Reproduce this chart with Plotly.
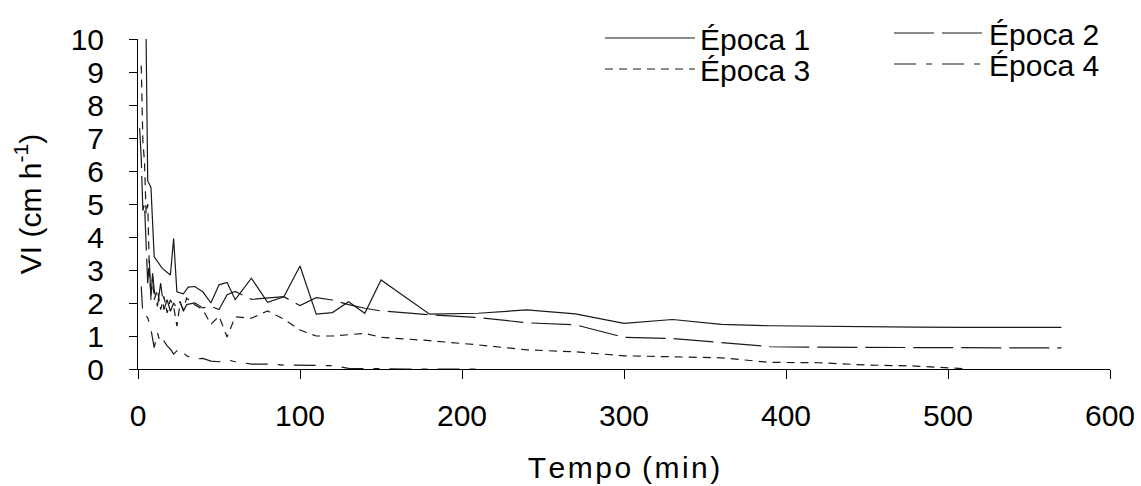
import plotly.graph_objects as go

# Época 1 (solid)
t1 = [5, 6, 8, 10, 15, 20, 22, 24, 28, 31, 35, 40, 45, 50, 55, 60,
      70, 80, 90, 100, 110, 120, 130, 140, 150,
      180, 210, 240, 270, 300, 330, 360, 390, 420, 450, 480, 510, 540, 570]
v1 = [10.0, 5.7, 5.5, 3.4, 3.05, 2.85, 3.95, 2.34, 2.28, 2.48, 2.5, 2.34, 2.0, 2.55, 2.62, 2.1,
      2.75, 2.02, 2.19, 3.12, 1.66, 1.71, 2.04, 1.69, 2.70,
      1.66, 1.69, 1.79, 1.67, 1.38, 1.50, 1.35, 1.31, 1.29, 1.28, 1.27, 1.26, 1.26, 1.26]

# Época 2 (long dash)
t2 = [1, 2, 3, 4, 5, 6, 7, 8, 9, 10, 12, 14, 16, 18, 20, 22, 24, 26, 28, 30,
      35, 40, 45, 50, 55, 60, 70, 80, 90, 100, 110, 120, 130, 140, 150,
      180, 210, 240, 270, 300, 330, 360, 390, 420, 450, 480, 510, 540, 570]
v2 = [7.3, 6.4, 4.8, 5.0, 3.8, 2.6, 3.3, 2.1, 2.9, 2.4, 1.9, 2.6, 1.8, 2.1, 1.75, 2.0, 1.85, 2.05, 1.75, 1.95,
      2.0, 1.85, 1.9, 1.8, 2.25, 2.35, 2.11, 2.15, 2.19, 1.92, 2.16, 2.09, 1.95, 1.84, 1.76,
      1.64, 1.56, 1.40, 1.34, 0.96, 0.92, 0.80, 0.68, 0.66, 0.65, 0.65, 0.64, 0.64, 0.64]

# Época 3 (short dash)
t3 = [2, 3, 4, 5, 6, 7, 8, 9, 10, 12, 14, 16, 18, 20, 22, 24, 26, 28, 30,
      35, 40, 45, 50, 55, 60, 70, 80, 90, 100, 110, 120, 130, 140, 150,
      180, 210, 240, 270, 300, 330, 360, 390, 420, 450, 480, 510]
v3 = [9.2, 6.9, 6.3, 4.7, 5.0, 3.0, 2.2, 2.8, 2.1, 2.4, 1.8, 2.2, 1.7, 2.1, 1.9, 1.3, 2.0, 1.8, 2.15,
      1.95, 1.8, 1.35, 1.6, 0.97, 1.58, 1.54, 1.76, 1.51, 1.18, 1.0, 1.0, 1.03, 1.08, 0.96,
      0.86, 0.73, 0.58, 0.52, 0.40, 0.37, 0.34, 0.20, 0.19, 0.12, 0.09, 0.01]

# Época 4 (dash-dot)
t4 = [2, 3, 5, 6, 8, 10, 12, 14, 16, 18, 20, 22, 24, 26, 28, 30,
      35, 40, 45, 50, 55, 60, 70, 80, 90, 100, 110, 120, 130, 140, 150,
      165, 180, 195, 210]
v4 = [2.5, 1.65, 1.6, 1.55, 1.2, 0.65, 1.1, 0.75, 0.85, 0.7, 0.6, 0.45, 0.55, 0.62, 0.5, 0.4,
      0.3, 0.32, 0.24, 0.22, 0.28, 0.22, 0.15, 0.15, 0.12, 0.12, 0.12, 0.10, 0.02, 0.01, 0.02,
      0.0, 0.0, 0.01, 0.0]

names = ["Época 1", "Época 2", "Época 3", "Época 4"]
xticks = [0, 100, 200, 300, 400, 500, 600]
yticks = list(range(0, 11))

FONT = "Arial, Liberation Sans, sans-serif"
LC = "#1a1a1a"

series = [
    (t1, v1, "solid", "legend"),
    (t2, v2, "40px,8px", "legend2"),
    (t3, v3, "8px,6px", "legend3"),
    (t4, v4, "22px,10px,6px,10px", "legend4"),
]

fig = go.Figure()
for (t, v, dash, lg), nm in zip(series, names):
    fig.add_trace(go.Scatter(x=t, y=v, mode="lines", name=nm, legend=lg,
                             line=dict(color=LC, width=1.2, dash=dash)))

W, H = 1141, 486
ML, MR, MT, MB = 138, 31, 39, 117
pw, ph = W - ML - MR, H - MT - MB

def px(xp):
    return (xp - ML) / pw

def py(yp):
    return (H - MB - yp) / ph

leg_common = dict(font=dict(family=FONT, size=30, color="black"), bgcolor="rgba(0,0,0,0)",
                  itemwidth=90, xanchor="left", yanchor="middle", tracegroupgap=0)

fig.update_layout(
    width=W, height=H,
    margin=dict(l=ML, r=MR, t=MT, b=MB, autoexpand=False),
    paper_bgcolor="white", plot_bgcolor="white",
    font=dict(family=FONT, size=30, color="black"),
    showlegend=True,
    legend=dict(x=px(600), y=py(38), **leg_common),
    legend2=dict(x=px(889), y=py(33), **leg_common),
    legend3=dict(x=px(600), y=py(69), **leg_common),
    legend4=dict(x=px(889), y=py(64), **leg_common),
    xaxis=dict(range=[0, 600], tickvals=xticks, ticktext=[str(v) for v in xticks],
               showgrid=False, zeroline=False, showline=True, linecolor="black", linewidth=1,
               ticks="outside", ticklen=9, tickcolor="black", tickwidth=1,
               ticklabelstandoff=11, automargin=False,
               tickfont=dict(family=FONT, size=30, color="black"),
               title=dict(text="T\u200ae\u200am\u200ap\u200ao\u200a (\u200am\u200ai\u200an\u200a)",
                          font=dict(family=FONT, size=30, color="black"), standoff=25)),
    yaxis=dict(range=[0, 10], tickvals=yticks, ticktext=[str(v) for v in yticks],
               showgrid=False, zeroline=False, showline=True, linecolor="black", linewidth=1,
               ticks="outside", ticklen=8, tickcolor="black", tickwidth=1,
               ticklabelstandoff=19, automargin=False,
               tickfont=dict(family=FONT, size=30, color="black"),
               title=dict(text="VI (cm h<sup>-1</sup>)",
                          font=dict(family=FONT, size=30, color="black"), standoff=20)),
)

fig.write_html("out.html")
